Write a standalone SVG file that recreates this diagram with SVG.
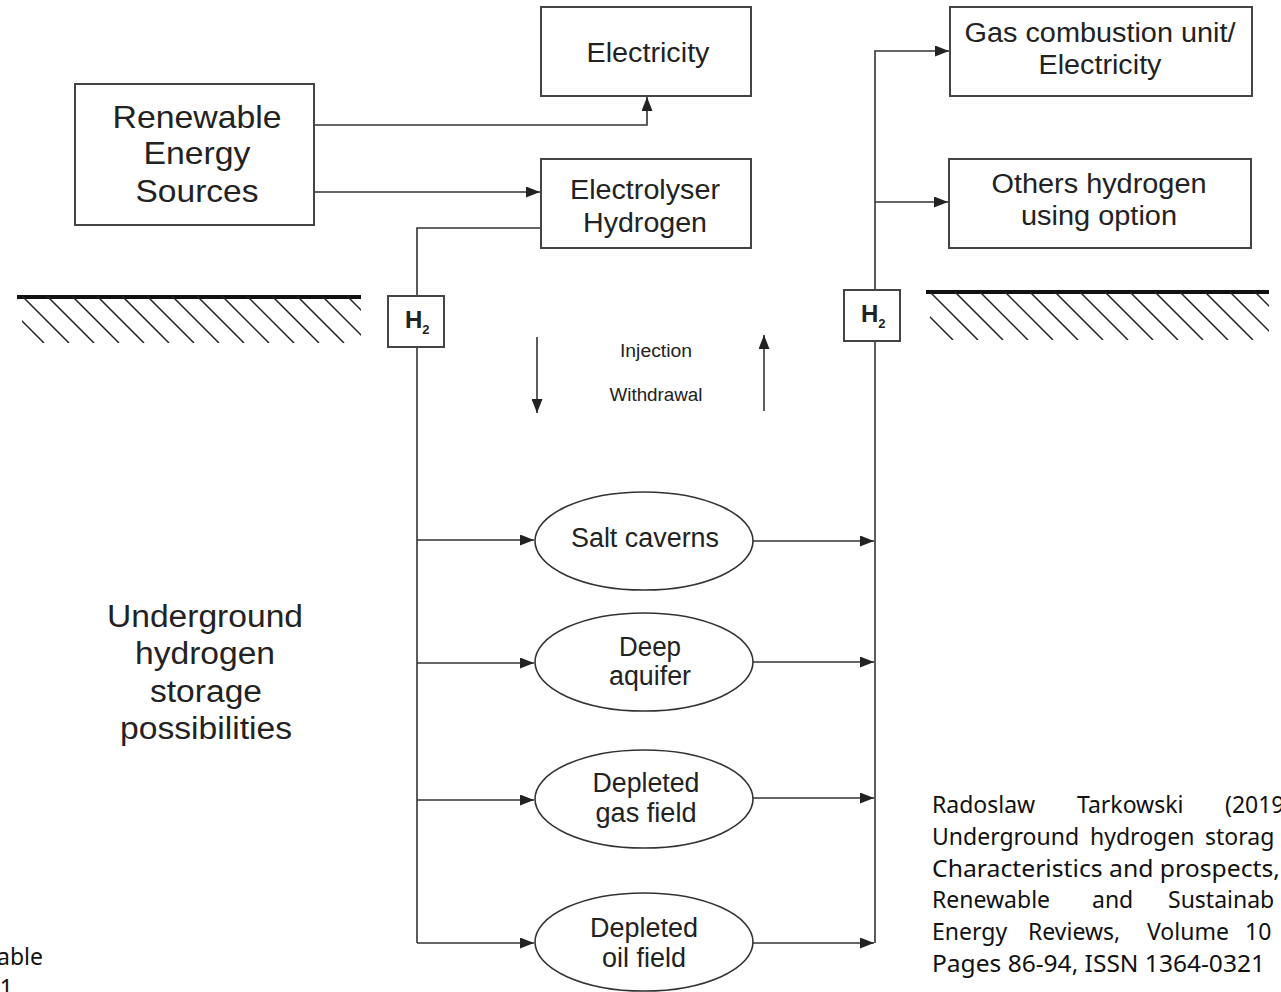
<svg xmlns="http://www.w3.org/2000/svg" width="1281" height="992" viewBox="0 0 1281 992">
<style>
.box{fill:#fff;stroke:#444;stroke-width:2}
.ell{fill:#fff;stroke:#333;stroke-width:1.6}
.ln{fill:none;stroke:#333;stroke-width:1.6}
.t{font-family:"Liberation Sans",Arial,sans-serif;fill:#222;text-anchor:middle}
.big{font-size:32px}
.mid{font-size:27px}
.ov{font-size:27px}
.sm{font-size:18px}
.h2{font-family:"Liberation Sans",Arial,sans-serif;font-weight:bold;fill:#222}
.gnd{stroke:#111;stroke-width:4}
.hat{stroke:#222;stroke-width:1.5}
.cit{font-family:"Noto Sans","Open Sans",sans-serif;font-size:23px;fill:#111}
</style>
<defs>
<marker id="ah" viewBox="0 0 14 11" refX="14" refY="5.5" markerWidth="14" markerHeight="11" orient="auto" markerUnits="userSpaceOnUse">
<path d="M0,0 L14,5.5 L0,11 z" fill="#222"/>
</marker>
<clipPath id="cl"><rect x="22" y="296" width="339" height="47"/></clipPath>
<clipPath id="cr"><rect x="930" y="292" width="339" height="48"/></clipPath>
</defs>
<rect width="1281" height="992" fill="#fff"/>

<g id="ground-left">
<line class="gnd" x1="17" y1="297" x2="361" y2="297"/>
<g clip-path="url(#cl)" class="hat">
<line x1="-28" y1="296" x2="19" y2="343"/><line x1="-3" y1="296" x2="44" y2="343"/><line x1="22" y1="296" x2="69" y2="343"/><line x1="47" y1="296" x2="94" y2="343"/><line x1="72" y1="296" x2="119" y2="343"/><line x1="97" y1="296" x2="144" y2="343"/><line x1="122" y1="296" x2="169" y2="343"/><line x1="147" y1="296" x2="194" y2="343"/><line x1="172" y1="296" x2="219" y2="343"/><line x1="197" y1="296" x2="244" y2="343"/><line x1="222" y1="296" x2="269" y2="343"/><line x1="247" y1="296" x2="294" y2="343"/><line x1="272" y1="296" x2="319" y2="343"/><line x1="297" y1="296" x2="344" y2="343"/><line x1="322" y1="296" x2="369" y2="343"/><line x1="347" y1="296" x2="394" y2="343"/>
</g>
</g>
<g id="ground-right">
<line class="gnd" x1="926" y1="292" x2="1269" y2="292"/>
<g clip-path="url(#cr)" class="hat">
<line x1="880" y1="292" x2="928" y2="340"/><line x1="905" y1="292" x2="953" y2="340"/><line x1="930" y1="292" x2="978" y2="340"/><line x1="955" y1="292" x2="1003" y2="340"/><line x1="980" y1="292" x2="1028" y2="340"/><line x1="1005" y1="292" x2="1053" y2="340"/><line x1="1030" y1="292" x2="1078" y2="340"/><line x1="1055" y1="292" x2="1103" y2="340"/><line x1="1080" y1="292" x2="1128" y2="340"/><line x1="1105" y1="292" x2="1153" y2="340"/><line x1="1130" y1="292" x2="1178" y2="340"/><line x1="1155" y1="292" x2="1203" y2="340"/><line x1="1180" y1="292" x2="1228" y2="340"/><line x1="1205" y1="292" x2="1253" y2="340"/><line x1="1230" y1="292" x2="1278" y2="340"/><line x1="1255" y1="292" x2="1303" y2="340"/>
</g>
</g>

<g id="connectors">
<path class="ln" d="M314,125 H647 V97" marker-end="url(#ah)"/>
<path class="ln" d="M314,192 H540" marker-end="url(#ah)"/>
<path class="ln" d="M541,228 H417 V296"/>
<path class="ln" d="M417,347 V943"/>
<path class="ln" d="M417,540 H534" marker-end="url(#ah)"/>
<path class="ln" d="M417,663 H534" marker-end="url(#ah)"/>
<path class="ln" d="M417,800 H534" marker-end="url(#ah)"/>
<path class="ln" d="M417,943 H534" marker-end="url(#ah)"/>
<path class="ln" d="M753,541 H874" marker-end="url(#ah)"/>
<path class="ln" d="M753,662 H874" marker-end="url(#ah)"/>
<path class="ln" d="M753,798 H874" marker-end="url(#ah)"/>
<path class="ln" d="M753,943 H874" marker-end="url(#ah)"/>
<path class="ln" d="M875,943 V341"/>
<path class="ln" d="M875,290 V51 H949" marker-end="url(#ah)"/>
<path class="ln" d="M875,202 H948" marker-end="url(#ah)"/>
<path class="ln" d="M537,337 V413" marker-end="url(#ah)"/>
<path class="ln" d="M764,411 V335" marker-end="url(#ah)"/>
</g>

<g id="renewable">
<rect class="box" x="75" y="84" width="239" height="141"/>
<text class="t big" x="197" y="128" textLength="169" lengthAdjust="spacingAndGlyphs">Renewable</text>
<text class="t big" x="197" y="164" textLength="107" lengthAdjust="spacingAndGlyphs">Energy</text>
<text class="t big" x="197" y="202" textLength="123" lengthAdjust="spacingAndGlyphs">Sources</text>
</g>
<g id="electricity">
<rect class="box" x="541" y="7" width="210" height="89"/>
<text class="t mid" x="648" y="62" textLength="123" lengthAdjust="spacingAndGlyphs">Electricity</text>
</g>
<g id="electrolyser">
<rect class="box" x="541" y="159" width="210" height="89"/>
<text class="t mid" x="645" y="199" textLength="150" lengthAdjust="spacingAndGlyphs">Electrolyser</text>
<text class="t mid" x="645" y="232" textLength="124" lengthAdjust="spacingAndGlyphs">Hydrogen</text>
</g>
<g id="gas-combustion">
<rect class="box" x="950" y="7" width="302" height="89"/>
<text class="t mid" x="1100" y="42" textLength="271" lengthAdjust="spacingAndGlyphs">Gas combustion unit/</text>
<text class="t mid" x="1100" y="74" textLength="123" lengthAdjust="spacingAndGlyphs">Electricity</text>
</g>
<g id="others">
<rect class="box" x="949" y="159" width="302" height="89"/>
<text class="t mid" x="1099" y="193" textLength="215" lengthAdjust="spacingAndGlyphs">Others hydrogen</text>
<text class="t mid" x="1099" y="225" textLength="156" lengthAdjust="spacingAndGlyphs">using option</text>
</g>
<g id="h2-left">
<rect class="box" x="388" y="296" width="56" height="51"/>
<text class="h2" x="405" y="328" font-size="24">H<tspan font-size="13" dy="6">2</tspan></text>
</g>
<g id="h2-right">
<rect class="box" x="844" y="290" width="56" height="51"/>
<text class="h2" x="861" y="322" font-size="24">H<tspan font-size="13" dy="6">2</tspan></text>
</g>
<g id="flow-labels">
<text class="t sm" x="656" y="357" textLength="72" lengthAdjust="spacingAndGlyphs">Injection</text>
<text class="t sm" x="656" y="401" textLength="93" lengthAdjust="spacingAndGlyphs">Withdrawal</text>
</g>
<g id="salt-caverns">
<ellipse class="ell" cx="644" cy="541" rx="109" ry="49"/>
<text class="t ov" x="645" y="547" textLength="148" lengthAdjust="spacingAndGlyphs">Salt caverns</text>
</g>
<g id="deep-aquifer">
<ellipse class="ell" cx="644" cy="662" rx="109" ry="49"/>
<text class="t ov" x="650" y="656" textLength="62" lengthAdjust="spacingAndGlyphs">Deep</text>
<text class="t ov" x="650" y="685" textLength="82" lengthAdjust="spacingAndGlyphs">aquifer</text>
</g>
<g id="depleted-gas">
<ellipse class="ell" cx="644" cy="799" rx="109" ry="49"/>
<text class="t ov" x="646" y="792" textLength="107" lengthAdjust="spacingAndGlyphs">Depleted</text>
<text class="t ov" x="646" y="822" textLength="101" lengthAdjust="spacingAndGlyphs">gas field</text>
</g>
<g id="depleted-oil">
<ellipse class="ell" cx="644" cy="942" rx="109" ry="49"/>
<text class="t ov" x="644" y="937" textLength="108" lengthAdjust="spacingAndGlyphs">Depleted</text>
<text class="t ov" x="644" y="967" textLength="84" lengthAdjust="spacingAndGlyphs">oil field</text>
</g>
<g id="underground-label">
<text class="t" font-size="31" x="205" y="627" textLength="196" lengthAdjust="spacingAndGlyphs">Underground</text>
<text class="t" font-size="31" x="205" y="664" textLength="140" lengthAdjust="spacingAndGlyphs">hydrogen</text>
<text class="t" font-size="31" x="206" y="702" textLength="112" lengthAdjust="spacingAndGlyphs">storage</text>
<text class="t" font-size="31" x="206" y="739" textLength="172" lengthAdjust="spacingAndGlyphs">possibilities</text>
</g>
<g id="citation" class="cit">
<text y="813"><tspan x="932">Radoslaw</tspan><tspan x="1077">Tarkowski</tspan><tspan x="1225">(2019</tspan></text>
<text y="845"><tspan x="932">Underground</tspan><tspan x="1090">hydrogen</tspan><tspan x="1205">storag</tspan></text>
<text y="877" x="932" textLength="348" lengthAdjust="spacingAndGlyphs">Characteristics and prospects,</text>
<text y="908"><tspan x="932">Renewable</tspan><tspan x="1092">and</tspan><tspan x="1168">Sustainab</tspan></text>
<text y="940"><tspan x="932">Energy</tspan><tspan x="1028">Reviews,</tspan><tspan x="1147">Volume</tspan><tspan x="1245">10</tspan></text>
<text y="972" x="932" textLength="333" lengthAdjust="spacingAndGlyphs">Pages 86-94, ISSN 1364-0321</text>
</g>
<g id="left-fragment" class="cit">
<text x="43" y="965" text-anchor="end">able</text>
<text x="13" y="996" text-anchor="end">1</text>
</g>
</svg>
